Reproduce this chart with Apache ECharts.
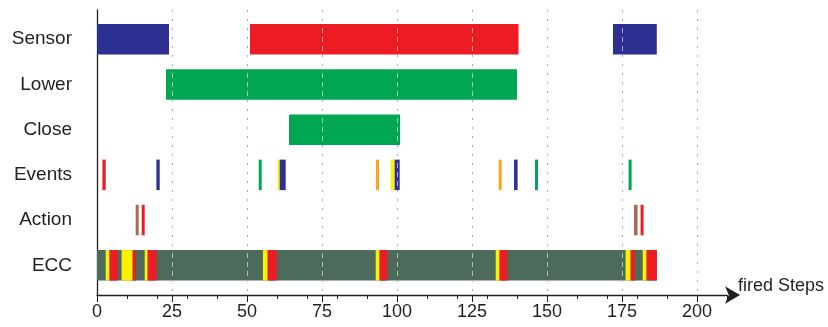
<!DOCTYPE html>
<html>
<head>
<meta charset="utf-8">
<script src="https://cdn.jsdelivr.net/npm/echarts@6/dist/echarts.min.js"></script>
<style>
  html, body { margin: 0; padding: 0; background: #fff; }
  #chart { width: 828px; height: 327px; }
</style>
</head>
<body>
<div id="chart"></div>
<script>
// Rows, bottom to top on the category axis
const ROWS = ['ECC', 'Action', 'Events', 'Close', 'Lower', 'Sensor'];

// Segments per row: [start step, end step, kind]
const SENSOR = [[0, 24, 'a'], [51, 140.5, 'b'], [172, 186.6, 'a']];
const LOWER  = [[23, 140, 'c']];
const CLOSE  = [[64, 101, 'c']];
const EVENTS = [
  [1.8, 2.9, 'b'], [19.8, 20.9, 'a'], [53.9, 54.9, 'c'],
  [60.2, 60.9, 'd'], [60.9, 62.9, 'a'], [93, 94, 'e'],
  [97.9, 99.2, 'd'], [99.2, 100.9, 'a'], [133.9, 134.9, 'e'],
  [139, 140.2, 'a'], [146, 147, 'c'], [177.2, 178.2, 'c']
];
const ACTION = [[12.9, 13.9, 'f'], [14.9, 15.9, 'b'], [179, 180.2, 'f'], [181.2, 182.2, 'b']];
const ECC = [
  [0, 186.6, 'g'],
  [2.9, 4.2, 'd'], [4.2, 6.9, 'b'], [8.2, 11.9, 'd'], [11.9, 12.9, 'b'],
  [15.9, 16.9, 'd'], [16.9, 19.9, 'b'], [55.3, 56.9, 'd'], [56.9, 59.9, 'b'],
  [92.9, 94.2, 'd'], [94.2, 96.8, 'b'], [132.9, 134.2, 'd'], [134.2, 136.8, 'b'],
  [176.2, 177.9, 'd'], [177.9, 179.3, 'b'], [181.9, 183.2, 'd'], [183.2, 186.6, 'b']
];

// Axis ticks
const STEP_MAX = 210;
const MAJOR_STEP = 25;
const MINOR_STEP = 10;

const KIND_COLORS = {
  a: '#2e3192', b: '#ed1c24', c: '#00a651', d: '#fff200',
  e: '#f9a61a', f: '#a86b52', g: '#4c6b5a'
};

const rowSegments = { ECC, Action: ACTION, Events: EVENTS, Close: CLOSE, Lower: LOWER, Sensor: SENSOR };
const data = [];
ROWS.forEach((name, i) => {
  rowSegments[name].forEach(s => data.push({ value: [i, s[0], s[1]], kind: s[2] }));
});

const FONT = 'Liberation Sans, Arial, sans-serif';
const INK = '#231f20';
const LEFT = 97;
const RIGHT = 101;

const chart = echarts.init(document.getElementById('chart'), null, { renderer: 'canvas' });
chart.setOption({
  animation: false,
  grid: [
    { left: LEFT, right: RIGHT, top: 16.6, bottom: 39.1 },
    { left: LEFT, right: RIGHT, top: 10, bottom: 32 }
  ],
  xAxis: [
    { gridIndex: 0, type: 'value', min: 0, max: STEP_MAX, show: false },
    {
      gridIndex: 1, type: 'value', position: 'bottom', min: 0, max: STEP_MAX, interval: MAJOR_STEP,
      name: 'fired Steps', nameLocation: 'end', nameGap: 11,
      nameTextStyle: { fontFamily: FONT, fontSize: 18, color: INK, verticalAlign: 'bottom', padding: [0, 0, 0, 0] },
      axisLine: { show: true, lineStyle: { color: INK, width: 1.3 }, symbol: ['none', 'arrow'], symbolSize: [13, 15], symbolOffset: [0, 13] },
      axisTick: { show: true, length: 7, lineStyle: { color: INK, width: 1 } },
      axisLabel: { fontFamily: FONT, fontSize: 18, color: INK, margin: 8, showMaxLabel: false },
      splitLine: { show: true, showMinLine: false, showMaxLine: false, lineStyle: { color: '#444', width: 1, type: [2, 7] } }
    },
    {
      gridIndex: 1, type: 'value', position: 'bottom', min: 0, max: STEP_MAX, interval: MINOR_STEP,
      axisLine: { show: false },
      axisTick: { show: true, length: 4, lineStyle: { color: INK, width: 1 } },
      axisLabel: { show: false },
      splitLine: { show: false }
    },
    {
      gridIndex: 1, type: 'value', position: 'bottom', min: 0, max: STEP_MAX, interval: MAJOR_STEP, z: 10,
      axisLine: { show: false }, axisTick: { show: false }, axisLabel: { show: false },
      splitLine: { show: true, showMinLine: false, showMaxLine: false, lineStyle: { color: 'rgba(255,255,255,0.55)', width: 1, type: [5, 4] } }
    }
  ],
  yAxis: [
    {
      gridIndex: 0, type: 'category', data: ROWS,
      axisLine: { show: false }, axisTick: { show: false },
      axisLabel: { fontFamily: FONT, fontSize: 19, color: INK, margin: 25 },
      splitLine: { show: false }
    },
    {
      gridIndex: 1, type: 'value', min: 0, max: 1,
      axisLine: { show: true, lineStyle: { color: INK, width: 1.3 } },
      axisTick: { show: false }, axisLabel: { show: false }, splitLine: { show: false }
    }
  ],
  series: [{
    type: 'custom',
    xAxisIndex: 0,
    yAxisIndex: 0,
    z: 2,
    encode: { x: [1, 2], y: 0 },
    data: data,
    renderItem: function (params, api) {
      const row = api.value(0);
      const p0 = api.coord([api.value(1), row]);
      const p1 = api.coord([api.value(2), row]);
      const h = api.size([0, 1])[1] * 0.675;
      const item = data[params.dataIndex];
      return {
        type: 'rect',
        shape: { x: p0[0], y: p0[1] - h / 2, width: p1[0] - p0[0], height: h },
        style: { fill: KIND_COLORS[item.kind] }
      };
    }
  }]
});
</script>
</body>
</html>
